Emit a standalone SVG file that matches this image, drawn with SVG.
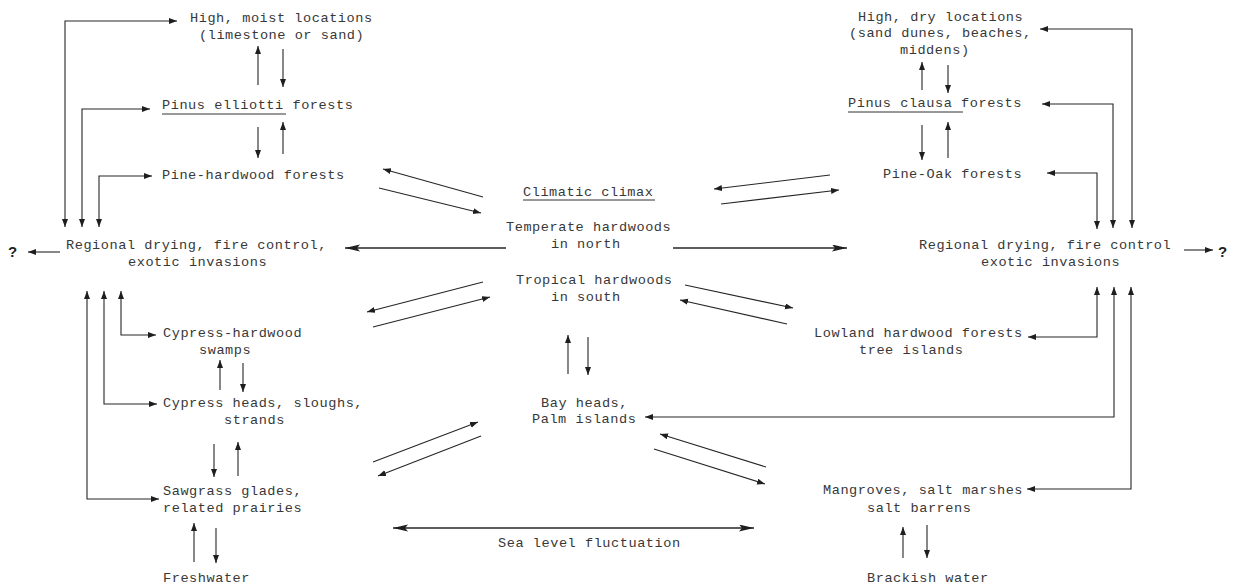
<svg xmlns="http://www.w3.org/2000/svg" width="1233" height="588" viewBox="0 0 1233 588">
  <style>
    .t { font-family: "Liberation Mono", "DejaVu Sans Mono", monospace; font-size: 13.6px; letter-spacing: 0.54px; fill: #383838; }
    .q { font-family: "Liberation Sans", Arial, sans-serif; font-size: 15px; font-weight: bold; fill: #222; }
    .c { fill: none; stroke: #262626; stroke-width: 1.1; }
    .s { marker-end: url(#ah); }
    .d { marker-start: url(#ah); marker-end: url(#ah); }
    .h { marker-end: url(#big); stroke-width: 1.3; }
    .hd { marker-start: url(#big); marker-end: url(#big); stroke-width: 1.3; }
    .u { stroke: #333; stroke-width: 1; }
  </style>
  <defs>
    <marker id="ah" markerUnits="userSpaceOnUse" markerWidth="9" markerHeight="7" refX="8" refY="3" orient="auto-start-reverse">
      <path d="M0,0 L8,3 L0,6 Z" fill="#1e1e1e"/>
    </marker>
    <marker id="big" markerUnits="userSpaceOnUse" markerWidth="16" markerHeight="8" refX="15" refY="3.5" orient="auto-start-reverse">
      <path d="M0,0 L15,3.5 L0,7 L3,3.5 Z" fill="#1e1e1e"/>
    </marker>
  </defs>
  <rect width="1233" height="588" fill="#ffffff"/>

  <!-- connectors -->
  <g id="connectors">
    <!-- left column: feedback from regional drying -->
    <path class="c d" d="M65,227 V21 H177"/>
    <path class="c d" d="M82,227 V109 H150"/>
    <path class="c d" d="M99,227 V176 H152"/>
    <path class="c s" d="M60,252 H28"/>
    <path class="c d" d="M159,499 H87 V291"/>
    <path class="c d" d="M157,404 H104 V291"/>
    <path class="c d" d="M156,335 H121 V291"/>

    <!-- left column: succession pairs -->
    <path class="c s" d="M258,85 V46"/>
    <path class="c s" d="M283,49 V87"/>
    <path class="c s" d="M258,127 V158"/>
    <path class="c s" d="M283,154 V122"/>
    <path class="c s" d="M220,390 V360"/>
    <path class="c s" d="M243,363 V392"/>
    <path class="c s" d="M214,444 V477"/>
    <path class="c s" d="M238,476 V442"/>
    <path class="c s" d="M194,562 V523"/>
    <path class="c s" d="M216,528 V563"/>

    <!-- centre -->
    <path class="c h" d="M506,248 H345"/>
    <path class="c h" d="M673,248 H847"/>
    <path class="c s" d="M483,197 L383,169"/>
    <path class="c s" d="M379,188 L481,213"/>
    <path class="c s" d="M830,175 L714,189"/>
    <path class="c s" d="M721,204 L839,190"/>
    <path class="c s" d="M483,282 L367,312"/>
    <path class="c s" d="M373,327 L490,297"/>
    <path class="c s" d="M685,285 L793,308"/>
    <path class="c s" d="M787,324 L680,300"/>
    <path class="c s" d="M568,374 V335"/>
    <path class="c s" d="M588,337 V375"/>
    <path class="c s" d="M373,462 L478,422"/>
    <path class="c s" d="M481,436 L378,476"/>
    <path class="c s" d="M766,467 L660,434"/>
    <path class="c s" d="M654,449 L765,484"/>
    <path class="c hd" d="M393,528 H754"/>

    <!-- right column -->
    <path class="c d" d="M1132,228 V29 H1040"/>
    <path class="c d" d="M1113,228 V104 H1042"/>
    <path class="c d" d="M1097,229 V173 H1047"/>
    <path class="c s" d="M1184,250 H1213"/>
    <path class="c d" d="M1028,337 H1097 V287"/>
    <path class="c d" d="M645,417 H1114 V287"/>
    <path class="c d" d="M1027,489 H1131 V287"/>
    <path class="c s" d="M922,90 V62"/>
    <path class="c s" d="M948,65 V93"/>
    <path class="c s" d="M922,125 V160"/>
    <path class="c s" d="M948,158 V122"/>
    <path class="c s" d="M903,558 V527"/>
    <path class="c s" d="M927,525 V558"/>
  </g>

  <!-- left column nodes -->
  <g id="high-moist">
    <text class="t" x="190" y="22">High, moist locations</text>
    <text class="t" x="199" y="39">(limestone or sand)</text>
  </g>
  <g id="pinus-elliotti">
    <text class="t" x="162" y="109">Pinus elliotti forests</text>
    <line class="u" x1="162" y1="114" x2="286" y2="114"/>
  </g>
  <g id="pine-hardwood">
    <text class="t" x="162" y="179">Pine-hardwood forests</text>
  </g>
  <g id="regional-left">
    <text class="t" x="66" y="249">Regional drying, fire control,</text>
    <text class="t" x="128" y="266">exotic invasions</text>
  </g>
  <g id="unknown-left">
    <text class="q" x="8" y="257">?</text>
  </g>
  <g id="cypress-hardwood">
    <text class="t" x="163" y="337">Cypress-hardwood</text>
    <text class="t" x="199" y="354">swamps</text>
  </g>
  <g id="cypress-heads">
    <text class="t" x="163" y="407">Cypress heads, sloughs,</text>
    <text class="t" x="224" y="424">strands</text>
  </g>
  <g id="sawgrass">
    <text class="t" x="163" y="495">Sawgrass glades,</text>
    <text class="t" x="163" y="512">related prairies</text>
  </g>
  <g id="freshwater">
    <text class="t" x="163" y="582">Freshwater</text>
  </g>

  <!-- centre nodes -->
  <g id="climax">
    <text class="t" x="523" y="196">Climatic climax</text>
    <line class="u" x1="523" y1="200" x2="655" y2="200"/>
    <text class="t" x="506" y="231">Temperate hardwoods</text>
    <text class="t" x="551" y="248">in north</text>
    <text class="t" x="516" y="284">Tropical hardwoods</text>
    <text class="t" x="551" y="301">in south</text>
  </g>
  <g id="bay-heads">
    <text class="t" x="541" y="407">Bay heads,</text>
    <text class="t" x="532" y="423">Palm islands</text>
  </g>
  <g id="sea-level">
    <text class="t" x="498" y="547">Sea level fluctuation</text>
  </g>

  <!-- right column nodes -->
  <g id="high-dry">
    <text class="t" x="858" y="21">High, dry locations</text>
    <text class="t" x="849" y="37">(sand dunes, beaches,</text>
    <text class="t" x="900" y="54">middens)</text>
  </g>
  <g id="pinus-clausa">
    <text class="t" x="848" y="107">Pinus clausa forests</text>
    <line class="u" x1="848" y1="112" x2="963" y2="112"/>
  </g>
  <g id="pine-oak">
    <text class="t" x="883" y="178">Pine-Oak forests</text>
  </g>
  <g id="regional-right">
    <text class="t" x="919" y="249">Regional drying, fire control</text>
    <text class="t" x="981" y="266">exotic invasions</text>
  </g>
  <g id="unknown-right">
    <text class="q" x="1218" y="257">?</text>
  </g>
  <g id="lowland">
    <text class="t" x="814" y="337">Lowland hardwood forests</text>
    <text class="t" x="859" y="354">tree islands</text>
  </g>
  <g id="mangroves">
    <text class="t" x="823" y="494">Mangroves, salt marshes</text>
    <text class="t" x="867" y="512">salt barrens</text>
  </g>
  <g id="brackish">
    <text class="t" x="867" y="582">Brackish water</text>
  </g>
</svg>
